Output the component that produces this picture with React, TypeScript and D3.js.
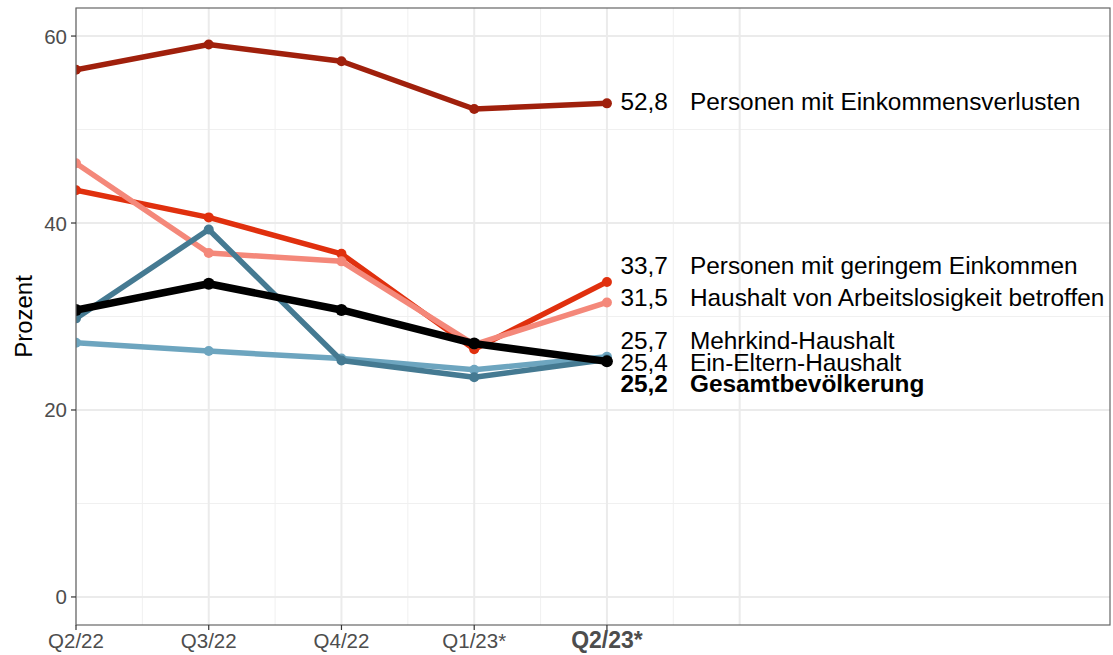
import React from "react";
import * as d3 from "d3";

const quarters = ["Q2/22", "Q3/22", "Q4/22", "Q1/23*", "Q2/23*"];

const seriesNames = [
  "Personen mit Einkommensverlusten",
  "Personen mit geringem Einkommen",
  "Haushalt von Arbeitslosigkeit betroffen",
  "Mehrkind-Haushalt",
  "Ein-Eltern-Haushalt",
  "Gesamtbevölkerung",
];

const einkommensverluste = [56.4, 59.1, 57.3, 52.2, 52.8];
const geringesEinkommen = [43.5, 40.6, 36.7, 26.5, 33.7];
const arbeitslosigkeit = [46.4, 36.8, 35.9, 27.0, 31.5];
const mehrkind = [27.2, 26.3, 25.5, 24.3, 25.7];
const einEltern = [29.8, 39.3, 25.3, 23.5, 25.4];
const gesamt = [30.7, 33.5, 30.7, 27.1, 25.2];

// label rows at the end of the lines (shifted apart so they do not overlap)
const labelValues = [53.05, 35.5, 32.0, 27.4, 25.1, 22.8];

const colors = ["#A0200C", "#E0300E", "#F4887A", "#6DA5BF", "#457A92", "#000000"];

const yTicks = [0, 20, 40, 60];
const yMinor = [10, 30, 50];

const width = 1113;
const height = 655;
const margin = { top: 8, right: 3, bottom: 30, left: 76 };

export default function App() {
  const values = [einkommensverluste, geringesEinkommen, arbeitslosigkeit, mehrkind, einEltern, gesamt];

  const x = d3
    .scaleLinear()
    .domain([1, 8.79])
    .range([margin.left, width - margin.right]);
  const y = d3
    .scaleLinear()
    .domain([-3, 63])
    .range([height - margin.bottom, margin.top]);

  const line = d3
    .line<number>()
    .x((d, i) => x(i + 1))
    .y((d) => y(d));

  const xMajor = [1, 2, 3, 4, 5, 6];
  const xMinor = [1.5, 2.5, 3.5, 4.5, 5.5];
  const top = margin.top;
  const bottom = height - margin.bottom;
  const left = margin.left;
  const right = width - margin.right;
  const font = "Liberation Sans, Arial, sans-serif";

  return (
    <svg width={width} height={height} style={{ position: "absolute", left: 0, top: 0 }} fontFamily={font}>
      <defs>
        <clipPath id="panel">
          <rect x={left} y={top} width={right - left} height={bottom - top} />
        </clipPath>
      </defs>
      <rect x={0} y={0} width={width} height={height} fill="#fff" />

      {/* grid */}
      {yMinor.map((v) => (
        <line key={"ym" + v} x1={left} x2={right} y1={y(v)} y2={y(v)} stroke="#F0F0F0" strokeWidth={1} />
      ))}
      {xMinor.map((v) => (
        <line key={"xm" + v} x1={x(v)} x2={x(v)} y1={top} y2={bottom} stroke="#F0F0F0" strokeWidth={1} />
      ))}
      {yTicks.map((v) => (
        <line key={"yg" + v} x1={left} x2={right} y1={y(v)} y2={y(v)} stroke="#EBEBEB" strokeWidth={2} />
      ))}
      {xMajor.map((v) => (
        <line key={"xg" + v} x1={x(v)} x2={x(v)} y1={top} y2={bottom} stroke="#EBEBEB" strokeWidth={2} />
      ))}

      {/* lines */}
      <g clipPath="url(#panel)">
        {values.map((vals, s) => {
          const isTotal = s === 5;
          return (
            <g key={seriesNames[s]}>
              <path
                d={line(vals) || ""}
                fill="none"
                stroke={colors[s]}
                strokeWidth={isTotal ? 7.5 : 5.5}
                strokeLinejoin="round"
              />
              {vals.map((v, i) => (
                <circle key={i} cx={x(i + 1)} cy={y(v)} r={isTotal ? 6 : 5} fill={colors[s]} />
              ))}
            </g>
          );
        })}
      </g>

      {/* end labels */}
      {values.map((vals, s) => {
        const bold = s === 5;
        const ly = y(labelValues[s]);
        const last = vals[vals.length - 1];
        return (
          <g key={"lab" + s} fontSize={24.4} fill="#000" fontWeight={bold ? "bold" : "normal"}>
            <text x={x(5) + 61} y={ly} textAnchor="end" dominantBaseline="central">
              {last.toFixed(1).replace(".", ",")}
            </text>
            <text x={x(5) + 83} y={ly} dominantBaseline="central">
              {seriesNames[s]}
            </text>
          </g>
        );
      })}

      {/* panel border */}
      <rect x={left} y={top} width={right - left} height={bottom - top} fill="none" stroke="#666" strokeWidth={1.2} />

      {/* y axis */}
      {yTicks.map((v) => (
        <g key={"yt" + v}>
          <line x1={left - 5} x2={left} y1={y(v)} y2={y(v)} stroke="#333" strokeWidth={1.2} />
          <text x={left - 9} y={y(v)} textAnchor="end" dominantBaseline="central" fontSize={20.5} fill="#4D4D4D">
            {v}
          </text>
        </g>
      ))}

      {/* x axis */}
      {quarters.map((q, i) => {
        const last = i === quarters.length - 1;
        return (
          <g key={q}>
            <line x1={x(i + 1)} x2={x(i + 1)} y1={bottom} y2={bottom + 5} stroke="#333" strokeWidth={1.2} />
            <text
              x={x(i + 1)}
              y={bottom + 23}
              textAnchor="middle"
              fontSize={last ? 23 : 20.5}
              fontWeight={last ? "bold" : "normal"}
              fill="#4D4D4D"
            >
              {q}
            </text>
          </g>
        );
      })}

      <text
        transform={`translate(32,${(top + bottom) / 2}) rotate(-90)`}
        textAnchor="middle"
        fontSize={24}
        fill="#000"
      >
        Prozent
      </text>
    </svg>
  );
}
